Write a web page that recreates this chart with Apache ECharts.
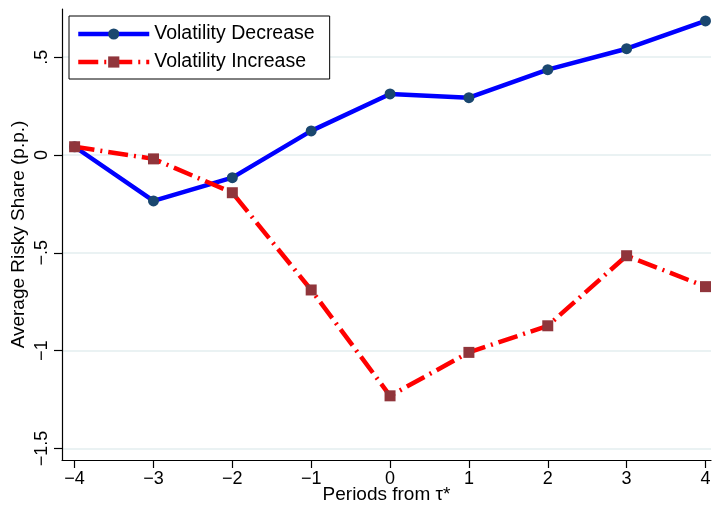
<!DOCTYPE html>
<html>
<head>
<meta charset="utf-8">
<script src="https://cdn.jsdelivr.net/npm/echarts@6/dist/echarts.min.js"></script>
<style>
html,body{margin:0;padding:0;background:#fff;}
#c{width:712px;height:508px;}
</style>
</head>
<body>
<div id="c"></div>
<script>
const periods = [-4, -3, -2, -1, 0, 1, 2, 3, 4];
const volDecrease = [0.042, -0.235, -0.116, 0.123, 0.312, 0.293, 0.436, 0.543, 0.685];
const volIncrease = [0.042, -0.020, -0.193, -0.690, -1.231, -1.009, -0.873, -0.515, -0.673];
const xTicks = [-4, -3, -2, -1, 0, 1, 2, 3, 4];
const xTickLabels = ['\u22124', '\u22123', '\u22122', '\u22121', '0', '1', '2', '3', '4'];
const yTicks = [-1.5, -1, -0.5, 0, 0.5];
const yTickLabels = ['\u22121.5', '\u22121', '\u2212.5', '0', '.5'];

const FONT = 'Liberation Sans, Arial, Helvetica, sans-serif';
const chart = echarts.init(document.getElementById('c'), null, {renderer: 'canvas'});

function lbl(ticks, labels) {
  return function (v) {
    for (let i = 0; i < ticks.length; i++) {
      if (Math.abs(ticks[i] - v) < 1e-6) return labels[i];
    }
    return '';
  };
}

const option = {
  backgroundColor: '#ffffff',
  animation: false,
  grid: {left: 62, right: 1, top: 9, bottom: 48, containLabel: false, outerBoundsMode: 'none'},
  legend: {
    left: 69, top: 16,
    z: 20,
    orient: 'vertical',
    backgroundColor: '#ffffff',
    borderColor: '#000000',
    borderWidth: 1,
    borderRadius: 0,
    padding: [8, 15, 7, 7],
    itemWidth: 71,
    itemHeight: 14,
    itemGap: 8,
    lineStyle: {width: 4.5},
    textStyle: {fontFamily: FONT, fontSize: 19.5, color: '#000'},
    data: ['Volatility Decrease', 'Volatility Increase']
  },
  xAxis: {
    type: 'value',
    min: -4.16, max: 4.07,
    name: 'Periods from \u03c4*',
    nameLocation: 'middle',
    nameGap: 25,
    nameMoveOverlap: false,
    nameTextStyle: {fontFamily: FONT, fontSize: 19, color: '#000'},
    axisLine: {show: true, onZero: false, lineStyle: {color: '#000', width: 1.2}},
    axisTick: {show: true, length: 8, customValues: xTicks, lineStyle: {color: '#000', width: 1.2}},
    axisLabel: {customValues: xTicks, formatter: lbl(xTicks, xTickLabels), margin: 10,
      fontFamily: FONT, fontSize: 18, color: '#000'},
    splitLine: {show: false}
  },
  yAxis: {
    type: 'value',
    min: -1.559, max: 0.746,
    name: 'Average Risky Share (p.p.)',
    nameLocation: 'middle',
    nameGap: 34,
    nameMoveOverlap: false,
    nameTextStyle: {fontFamily: FONT, fontSize: 19, color: '#000'},
    axisLine: {show: true, onZero: false, lineStyle: {color: '#000', width: 1.2}},
    axisTick: {show: true, length: 8, customValues: yTicks, lineStyle: {color: '#000', width: 1.2}},
    axisLabel: {customValues: yTicks, formatter: lbl(yTicks, yTickLabels), rotate: 90, margin: 11,
      fontFamily: FONT, fontSize: 18, color: '#000'},
    splitLine: {show: false}
  },
  series: [
    {
      name: 'gridlines',
      type: 'line',
      data: [],
      z: 0,
      zlevel: 0,
      silent: true,
      markLine: {
        silent: true,
        z: 0,
        symbol: ['none', 'none'],
        label: {show: false},
        lineStyle: {color: '#eaf2f3', width: 2, type: 'solid'},
        data: yTicks.map(v => ({yAxis: v}))
      }
    },
    {
      name: 'Volatility Decrease',
      type: 'line',
      z: 3,
      data: periods.map((p, i) => [p, volDecrease[i]]),
      lineStyle: {color: '#0000ff', width: 4.5},
      itemStyle: {color: '#1a476f'},
      symbol: 'circle',
      symbolSize: 11,
      showAllSymbol: true
    },
    {
      name: 'Volatility Increase',
      type: 'line',
      z: 4,
      data: periods.map((p, i) => [p, volIncrease[i]]),
      lineStyle: {color: '#ff0000', width: 4.5, type: [20, 6, 2, 6]},
      itemStyle: {color: '#90353b'},
      symbol: 'rect',
      symbolSize: 11,
      showAllSymbol: true
    }
  ]
};
chart.setOption(option);
</script>
</body>
</html>
